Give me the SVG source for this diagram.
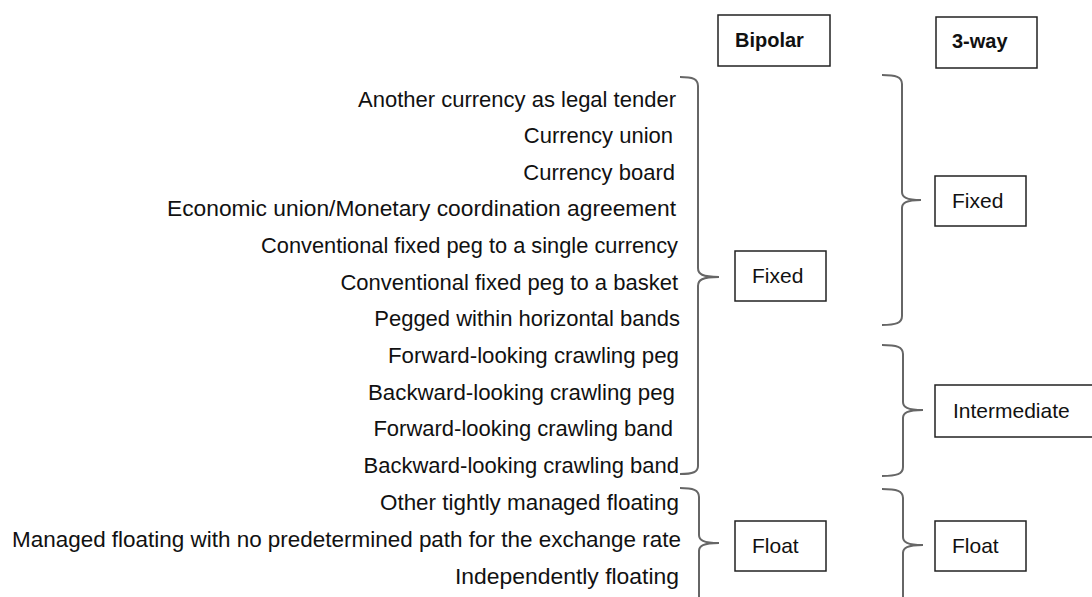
<svg xmlns="http://www.w3.org/2000/svg" width="1092" height="597" viewBox="0 0 1092 597">
<style>
.item{font-family:"Liberation Sans",Arial,sans-serif;font-size:22px;fill:#111;text-anchor:end}
.lbl{font-family:"Liberation Sans",Arial,sans-serif;font-size:21px;fill:#111}
.hdr{font-family:"Liberation Sans",Arial,sans-serif;font-size:20px;font-weight:bold;fill:#111}
.box{fill:#fff;stroke:#222;stroke-width:1.5}
.br{fill:none;stroke:#666;stroke-width:2}
</style>
<rect width="1092" height="597" fill="#fff"/>
<g id="items">
<text class="item" x="676" y="107">Another currency as legal tender</text>
<text class="item" x="673" y="143">Currency union</text>
<text class="item" x="675" y="180">Currency board</text>
<text class="item" x="676" y="216" textLength="509" lengthAdjust="spacingAndGlyphs">Economic union/Monetary coordination agreement</text>
<text class="item" x="678" y="253" textLength="417" lengthAdjust="spacingAndGlyphs">Conventional fixed peg to a single currency</text>
<text class="item" x="678" y="290">Conventional fixed peg to a basket</text>
<text class="item" x="680" y="326">Pegged within horizontal bands</text>
<text class="item" x="679" y="363" textLength="291" lengthAdjust="spacingAndGlyphs">Forward-looking crawling peg</text>
<text class="item" x="675" y="400" textLength="307" lengthAdjust="spacingAndGlyphs">Backward-looking crawling peg</text>
<text class="item" x="673" y="436">Forward-looking crawling band</text>
<text class="item" x="679" y="473">Backward-looking crawling band</text>
<text class="item" x="679" y="510" textLength="299" lengthAdjust="spacingAndGlyphs">Other tightly managed floating</text>
<text class="item" x="681" y="547" textLength="669" lengthAdjust="spacingAndGlyphs">Managed floating with no predetermined path for the exchange rate</text>
<text class="item" x="679" y="584" textLength="224" lengthAdjust="spacingAndGlyphs">Independently floating</text>
</g>
<g id="connectors">
<path class="br" d="M680,77 C693,77 698,79 698,86 L698,268 C698,274 702,277 719,277 C702,277 698,280 698,286 L698,466 C698,472 693,474 680,474"/>
<path class="br" d="M680,488 C693,488 699,490 699,497 L699,535 C699,540 703,543 719,543 C703,543 699,546 699,551 L699,610"/>
<path class="br" d="M882,75 C896,75 902,77 902,84 L902,192 C902,197 906,200 921,200 C906,200 902,203 902,208 L902,316 C902,323 896,325 882,325"/>
<path class="br" d="M882,345 C897,345 903,347 903,354 L903,402 C903,407 907,410 923,410 C907,410 903,413 903,418 L903,467 C903,474 897,476 882,476"/>
<path class="br" d="M882,489 C897,489 903,491 903,498 L903,537 C903,542 907,545 923,545 C907,545 903,548 903,553 L903,610"/>
</g>
<g id="bipolar"><rect class="box" x="718" y="15" width="112" height="51"/><text class="hdr" x="735" y="47">Bipolar</text></g>
<g id="threeway"><rect class="box" x="936" y="17" width="101" height="51"/><text class="hdr" x="952" y="48">3-way</text></g>
<g id="bip-fixed"><rect class="box" x="735" y="251" width="91" height="50"/><text class="lbl" x="752" y="283">Fixed</text></g>
<g id="bip-float"><rect class="box" x="735" y="521" width="91" height="50"/><text class="lbl" x="752" y="553">Float</text></g>
<g id="tw-fixed"><rect class="box" x="935" y="176" width="91" height="50"/><text class="lbl" x="952" y="208">Fixed</text></g>
<g id="tw-intermediate"><rect class="box" x="935" y="385" width="160" height="52"/><text class="lbl" x="953" y="418">Intermediate</text></g>
<g id="tw-float"><rect class="box" x="935" y="521" width="91" height="50"/><text class="lbl" x="952" y="553">Float</text></g>
</svg>
